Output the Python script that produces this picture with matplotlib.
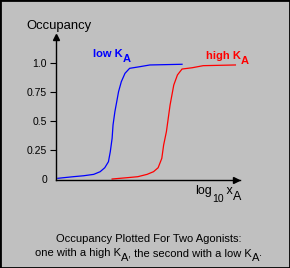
import matplotlib
matplotlib.use("Agg")
import matplotlib.pyplot as plt
from matplotlib.patches import Rectangle

plt.rcParams['font.family'] = ['Liberation Sans', 'DejaVu Sans']

# log10 xA (arbitrary units) and occupancy
blue_x = [0.1, 0.95, 1.5, 2.05, 2.4, 2.65, 2.85, 2.95, 3.05, 3.1, 3.2, 3.3, 3.4, 3.55, 3.75, 4.0, 4.55, 5.1, 6.85]
blue_y = [0.006, 0.02, 0.028, 0.04, 0.063, 0.097, 0.149, 0.235, 0.351, 0.466, 0.58, 0.666, 0.753, 0.839, 0.911, 0.954, 0.968, 0.983, 0.989]
red_x = [3.05, 3.85, 4.45, 4.95, 5.3, 5.55, 5.75, 5.85, 6.0, 6.1, 6.2, 6.3, 6.4, 6.6, 6.85, 7.4, 8.0, 9.75]
red_y = [0.0, 0.011, 0.02, 0.04, 0.063, 0.097, 0.178, 0.293, 0.408, 0.523, 0.638, 0.724, 0.81, 0.897, 0.948, 0.959, 0.977, 0.983]

yticks = [0, 0.25, 0.5, 0.75, 1.0]
ytick_labels = ['0', '0.25', '0.5', '0.75', '1.0']

W, H = 290, 268
bg = '#c0c0c0'


def fx(x):
    return x / W


def fy(y):
    return 1 - y / H


fig = plt.figure(figsize=(W / 100, H / 100), dpi=100, facecolor=bg)
ax = fig.add_axes([fx(56), fy(180), (240 - 56) / W, (180 - 37) / H])
ax.set_facecolor('none')

ax.plot(blue_x, blue_y, color='#0000ff', lw=0.9, solid_joinstyle='miter')
ax.plot(red_x, red_y, color='#ff0000', lw=0.9, solid_joinstyle='miter')

ax.set_xlim(0, 10)
ax.set_ylim(-1 / 116, (179 - 37) / 116)
for s in ['top', 'right']:
    ax.spines[s].set_visible(False)
for s in ['left', 'bottom']:
    ax.spines[s].set_linewidth(1.0)
ax.set_xticks([])
ax.set_yticks(yticks)
ax.set_yticklabels(ytick_labels)
ax.tick_params(axis='y', length=4.3, width=0.8, pad=2.2, labelsize=7.5)
ax.yaxis.get_major_ticks()[0].tick1line.set_visible(False)

# arrow heads
ax.plot([0], [1], marker='^', ms=4.5, color='black', transform=ax.transAxes, clip_on=False)
ax.plot([0.98], [0], marker='>', ms=4.5, color='black', transform=ax.transAxes, clip_on=False)

fig.text(fx(26), fy(28.5), 'Occupancy', fontsize=9.4, va='baseline')


def chain(parts, x, y, ha='left', **kw):
    # parts: (text, size, dy in px relative to previous piece)
    t = fig.text(fx(x), fy(y), parts[0][0], fontsize=parts[0][1], va='baseline', ha=ha, **kw)
    for s, size, dy in parts[1:]:
        t = ax.annotate(s, xy=(1, 0), xycoords=t, xytext=(0, -dy * 0.72),
                        textcoords='offset points', fontsize=size, va='bottom',
                        ha='left', annotation_clip=False, **kw)
    return t


chain([('low K', 8, 0), ('A', 8, 5)], 93, 57, color='#0000ff', fontweight='bold')
chain([('high K', 8, 0), ('A', 8, 5)], 206, 58.7, color='#ff0000', fontweight='bold')
chain([('log', 9, 0), ('10', 7.5, 6.5), (' x', 9, -6.5), ('A', 9, 6.5)], 195, 194)

fig.text(fx(148.5), fy(242.3), 'Occupancy Plotted For Two Agonists:', fontsize=8,
         ha='center', va='baseline')
chain([('one with a high K', 8, 0), ('A', 8, 4.5), (', the second with a low K', 8, -4.5),
       ('A', 8, 4.5), ('.', 8, -4.5)], 35, 256.3)

fig.add_artist(Rectangle((0, 0), 1, 1, transform=fig.transFigure, fill=False,
                         edgecolor='black', lw=2))

fig.savefig('out.png', dpi=100, facecolor=bg)
